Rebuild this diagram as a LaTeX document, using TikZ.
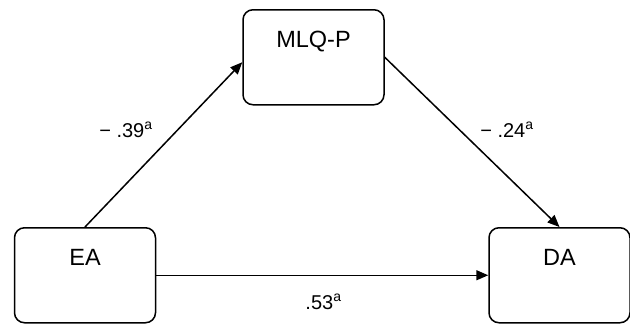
\documentclass[tikz,border=0pt]{standalone}
\usepackage{fontspec}
\setmainfont{Liberation Sans}
\usetikzlibrary{arrows.meta}
\begin{document}
\begin{tikzpicture}[x=1pt,y=-1pt,
  varbox/.style={draw, line width=1.5pt, rounded corners=10pt, inner sep=0pt,
    minimum width=141pt, text height=38pt, text depth=57pt, anchor=north,
    font=\fontsize{23.5}{23.5}\selectfont},
  coef/.style={anchor=base, inner sep=0pt, font=\fontsize{20}{20}\selectfont},
  path/.style={line width=1.5pt, -{Triangle[length=12pt,width=10pt]}}]
\useasboundingbox (0,0) rectangle (630,325);
\node[varbox] (ea) at (85,227){EA};
\node[varbox] (mlq) at (313.5,9){MLQ-P};
\node[varbox] (da) at (559.5,227){DA};
\draw[path] (ea.north) -- ([yshift=-5pt]mlq.west);
\draw[path] (mlq.east) -- (da.north);
\draw[path] (ea.east) -- (da.west);
\node[coef] (a1) at (126,137){− .39\textsuperscript{a}};
\node[coef] (a2) at (507,137){− .24\textsuperscript{a}};
\node[coef] (a3) at (323.5,309){.53\textsuperscript{a}};
\end{tikzpicture}
\end{document}
